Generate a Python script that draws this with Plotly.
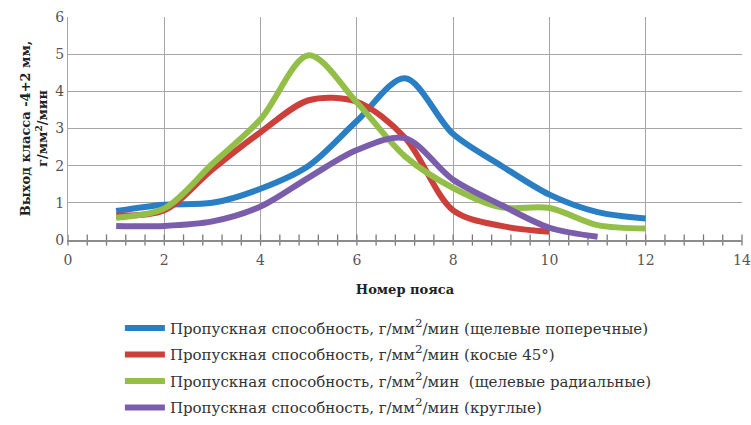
import plotly.graph_objects as go

x_blue = [1, 2, 3, 4, 5, 6, 7, 8, 9, 10, 11, 12]
y_blue = [0.78, 0.95, 1.0, 1.38, 2.0, 3.2, 4.35, 2.85, 2.0, 1.22, 0.75, 0.58]

x_red = [1, 2, 3, 4, 5, 6, 7, 8, 9, 10]
y_red = [0.66, 0.8, 1.9, 2.9, 3.76, 3.72, 2.75, 0.8, 0.38, 0.22]

x_green = [1, 2, 3, 4, 5, 6, 7, 8, 9, 10, 11, 12]
y_green = [0.6, 0.85, 2.05, 3.25, 4.97, 3.7, 2.25, 1.4, 0.88, 0.86, 0.4, 0.31]

x_purple = [1, 2, 3, 4, 5, 6, 7, 8, 9, 10, 11]
y_purple = [0.38, 0.38, 0.5, 0.9, 1.68, 2.42, 2.74, 1.62, 0.94, 0.33, 0.09]

SUP = '<span style="font-size:17px"><sup>2</sup></span>'
names = [
    "Пропускная способность, г/мм" + SUP + "/мин (щелевые поперечные)",
    "Пропускная способность, г/мм" + SUP + "/мин (косые 45°)",
    "Пропускная способность, г/мм" + SUP + "/мин  (щелевые радиальные)",
    "Пропускная способность, г/мм" + SUP + "/мин (круглые)",
]
colors = ["#2a7ec3", "#cc3f3b", "#93bf48", "#7a5eab"]

series = [(x_blue, y_blue), (x_red, y_red), (x_green, y_green), (x_purple, y_purple)]

font_family = "DejaVu Serif, Liberation Serif, serif"
tick_col = "#7a7a7a"

fig = go.Figure()

# small tick marks crossing the x axis every 0.4 units
minor_x = [round(i * 0.4, 2) for i in range(int(14 / 0.4) + 1)]
fig.add_trace(go.Scatter(
    x=minor_x, y=[0] * len(minor_x), mode="markers", showlegend=False, hoverinfo="skip",
    marker=dict(symbol="line-ns", size=8, line=dict(color=tick_col, width=1.3)),
    cliponaxis=False,
))

for i, ((xs, ys), nm, c) in enumerate(zip(series, names, colors)):
    fig.add_trace(go.Scatter(
        x=xs, y=ys, mode="lines", name=nm, legendgroup=f"g{i}",
        line=dict(color=c, width=6, shape="spline", smoothing=0.9),
    ))

fig.update_layout(
    width=751, height=425,
    margin=dict(l=68, r=9, t=17, b=185, autoexpand=False),
    paper_bgcolor="white", plot_bgcolor="white",
    font=dict(family=font_family, color="#333333"),
    showlegend=True,
    legend=dict(
        orientation="v", x=0.077, xanchor="left", y=-0.322, yanchor="top",
        font=dict(size=15, color="#333333", family=font_family),
        tracegroupgap=4, itemwidth=40,
        bgcolor="rgba(0,0,0,0)",
    ),
    xaxis=dict(
        range=[0, 14], dtick=2, tick0=0, automargin=False,
        showgrid=True, gridcolor="#a6a6a6", gridwidth=1.2,
        showline=True, linecolor="#8c8c8c", linewidth=1.5,
        zeroline=False,
        ticks="", ticklabelstandoff=6,
        tickfont=dict(size=14, color="#555555", family=font_family),
        title=dict(text="<b>Номер пояса</b>", font=dict(size=13, color="#222222", family=font_family), standoff=18),
    ),
    yaxis=dict(
        range=[0, 6], dtick=1, automargin=False,
        showgrid=True, gridcolor="#a6a6a6", gridwidth=1.2,
        showline=True, linecolor="#a6a6a6", linewidth=1.2,
        zeroline=False,
        ticks="", tickfont=dict(size=14, color="#555555", family=font_family),
        title=dict(text="<b>Выход класса -4+2 мм,<br>г/мм<sup>2</sup>/мин</b>", font=dict(size=13, color="#222222", family=font_family), standoff=4),
    ),
)

fig.write_html("out.html", config={"displayModeBar": False},
               post_script="document.body.style.margin='0';")
